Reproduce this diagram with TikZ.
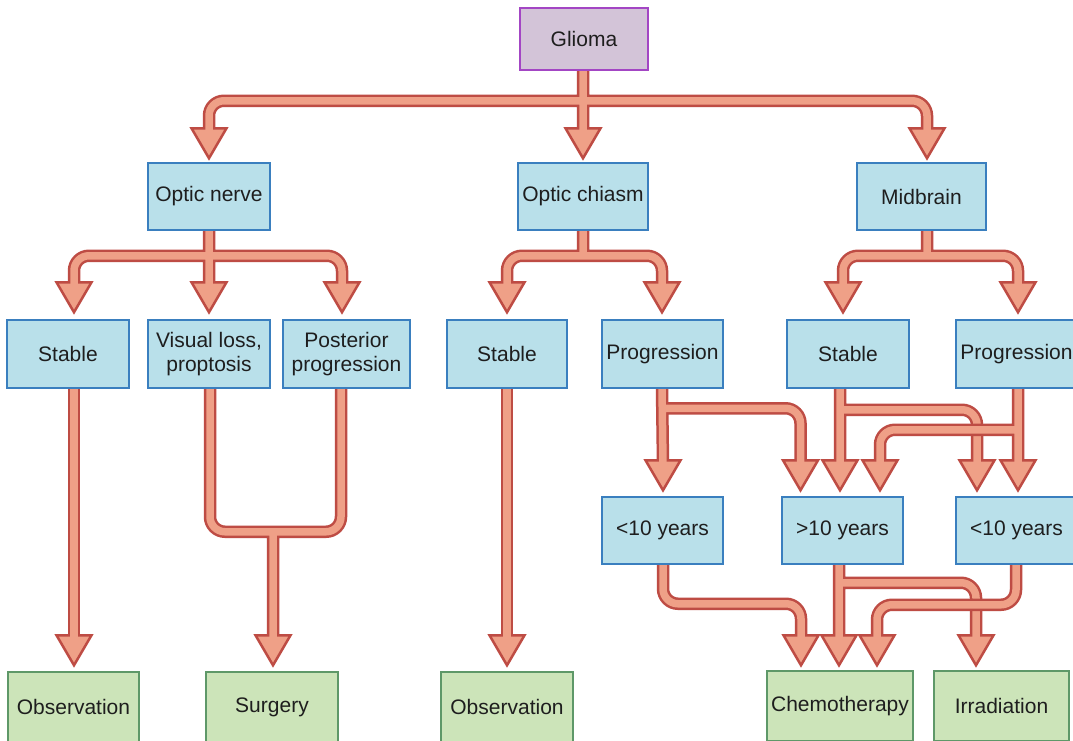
\documentclass[tikz,border=0pt]{standalone}
\usepackage{fontspec}
\setmainfont{Liberation Sans}
\usetikzlibrary{calc}
\pgfdeclarelayer{background}
\pgfsetlayers{background,main}

\definecolor{arrowfill}{HTML}{EFA087}
\definecolor{arrowline}{HTML}{BE4C44}
\definecolor{bluefill}{HTML}{B9E0EA}
\definecolor{blueline}{HTML}{3A7FBF}
\definecolor{greenfill}{HTML}{CCE4B9}
\definecolor{greenline}{HTML}{5E9868}
\definecolor{purplefill}{HTML}{D3C4D8}
\definecolor{purpleline}{HTML}{A346C4}
\definecolor{ink}{HTML}{1E1E1E}

\tikzset{
  flowbox/.style={rectangle, draw, line width=1.5pt, inner sep=0pt, align=center,
    text=ink, font=\fontsize{21pt}{24.5pt}\selectfont},
  topbox/.style={flowbox, fill=purplefill, draw=purpleline},
  sitebox/.style={flowbox, fill=bluefill, draw=blueline},
  outcome/.style={flowbox, fill=greenfill, draw=greenline},
  outerstroke/.style={draw=arrowline, line width=12.5pt, rounded corners=15pt, line cap=butt},
  innerstroke/.style={draw=arrowfill, line width=7.5pt, rounded corners=15pt, line cap=butt},
  headstyle/.style={fill=arrowfill, draw=arrowline, line width=2.5pt, line join=miter},
}

% arrow tip point (#1) above node #2, shifted #3 sideways, #4 clear of the box;
% (#1e) is where the shaft stops inside the head
\newcommand\tipat[4]{%
  \coordinate (#1) at ([xshift=#3pt,yshift=#4pt]#2.north);
  \coordinate (#1e) at ([yshift=27pt]#1);}
% shaft start under node #2
\newcommand\srcat[3]{\coordinate (#1) at ([xshift=#3pt]#2.south);}
% a fat outlined connector: outline, heads, then the fill stroke on top
\newcommand\flow[2]{%
  \draw[outerstroke] #1;
  \foreach \tipname in {#2}{%
    \filldraw[headstyle, shift={(\tipname)}] (-17.5,-30) -- (17.5,-30) -- (0,0) -- cycle;}
  \draw[innerstroke] #1;}

\begin{document}
\begin{tikzpicture}[x=1pt, y=-1pt]
\useasboundingbox (0,0) rectangle (1073,740);

% boxes
\node[topbox, minimum width=128pt, minimum height=62pt] (glioma) at (584,39) {Glioma};

\node[sitebox, minimum width=122pt, minimum height=67pt] (onerve)   at (209,196.5) {Optic nerve};
\node[sitebox, minimum width=130pt, minimum height=67pt] (ochiasm)  at (583,196.5) {Optic chiasm};
\node[sitebox, minimum width=129pt, minimum height=67pt] (midbrain) at (921.5,196.5) {Midbrain};

\node[sitebox, minimum width=122pt, minimum height=68pt] (stable1)   at (68,354) {Stable};
\node[sitebox, minimum width=122pt, minimum height=68pt] (visual)    at (209,354) {Visual loss,\\proptosis};
\node[sitebox, minimum width=127pt, minimum height=68pt] (posterior) at (346.5,354) {Posterior\\progression};
\node[sitebox, minimum width=120pt, minimum height=68pt] (stable2)   at (507,354) {Stable};
\node[sitebox, minimum width=121pt, minimum height=68pt] (prog1)     at (662.5,354) {Progression};
\node[sitebox, minimum width=122pt, minimum height=68pt] (stable3)   at (848,354) {Stable};
\node[sitebox, minimum width=121pt, minimum height=68pt] (prog2)     at (1016.5,354) {Progression};

\node[sitebox, minimum width=121pt, minimum height=67pt] (lt10a) at (662.5,530.5) {<10 years};
\node[sitebox, minimum width=121pt, minimum height=67pt] (gt10)  at (842.5,530.5) {>10 years};
\node[sitebox, minimum width=121pt, minimum height=67pt] (lt10b) at (1016.5,530.5) {<10 years};

\node[outcome, minimum width=131pt, minimum height=70pt] (obs1)    at (73.5,707) {Observation};
\node[outcome, minimum width=132pt, minimum height=70pt] (surgery) at (272,707) {Surgery};
\node[outcome, minimum width=132pt, minimum height=70pt] (obs2)    at (507,707) {Observation};
\node[outcome, minimum width=146pt, minimum height=70pt] (chemo)   at (840,706) {Chemotherapy};
\node[outcome, minimum width=135pt, minimum height=70pt] (irrad)   at (1001.5,706) {Irradiation};

% shaft starts
\srcat{sG}{glioma}{-1}
\srcat{sON}{onerve}{0}
\srcat{sOC}{ochiasm}{0}
\srcat{sMB}{midbrain}{5.5}
\srcat{sS1}{stable1}{6}
\srcat{sVI}{visual}{1}
\srcat{sPP}{posterior}{-5.5}
\srcat{sS2}{stable2}{0}
\srcat{sP1}{prog1}{-0.5}
\srcat{sS3}{stable3}{-8}
\srcat{sP2}{prog2}{1.5}
\srcat{sA}{lt10a}{0.5}
\srcat{sB}{gt10}{-3.5}
\srcat{sC}{lt10b}{-0.5}

% arrow tips
\tipat{tON}{onerve}{0}{4}
\tipat{tOC}{ochiasm}{0}{4}
\tipat{tMB}{midbrain}{5.5}{4}
\tipat{tS1}{stable1}{6}{7}
\tipat{tVI}{visual}{0}{7}
\tipat{tPP}{posterior}{-4.5}{7}
\tipat{tS2}{stable2}{0}{7}
\tipat{tP1}{prog1}{-0.5}{7}
\tipat{tS3}{stable3}{-5}{7}
\tipat{tP2}{prog2}{1.5}{7}
\tipat{tA1}{lt10a}{0.5}{6}
\tipat{tB1}{gt10}{-42}{6}
\tipat{tB2}{gt10}{-2.5}{6}
\tipat{tB3}{gt10}{37.5}{6}
\tipat{tC2}{lt10b}{-39.5}{6}
\tipat{tC3}{lt10b}{1.5}{6}
\tipat{tO1}{obs1}{0.5}{6}
\tipat{tSU}{surgery}{1}{6}
\tipat{tO2}{obs2}{0}{6}
\tipat{tH1}{chemo}{-39}{5}
\tipat{tH2}{chemo}{-1}{5}
\tipat{tH3}{chemo}{37}{5}
\tipat{tIR}{irrad}{-25.5}{5}

% branch points
\coordinate (jG)  at ([yshift=-30pt]sG);
\coordinate (jON) at ([yshift=-25pt]sON);
\coordinate (jOC) at ([yshift=-25pt]sOC);
\coordinate (jMB) at ([yshift=-25pt]sMB);
\coordinate (hVI) at ([yshift=-143pt]sVI);
\coordinate (jSU) at (hVI -| tSU);
\coordinate (hP1) at ([yshift=-19.5pt]sP1);
\coordinate (hS3) at ([yshift=-21pt]sS3);
\coordinate (hP2) at ([yshift=-41pt]sP2);
\coordinate (hA)  at ([yshift=-39pt]sA);
\coordinate (hB)  at ([yshift=-18pt]sB);
\coordinate (hC)  at ([yshift=-40pt]sC);

\begin{pgfonlayer}{background}
  \fill[white] (0,0) rectangle (1073,740);
  % from the tumour to its sites
  \flow{(sG) -- (tOCe) (jG) -| (tONe) (jG) -| (tMBe)}{tON,tOC,tMB}
  % optic nerve
  \flow{(sON) -- (tVIe) (jON) -| (tS1e) (jON) -| (tPPe)}{tS1,tVI,tPP}
  % optic chiasm
  \flow{(sOC) -- (jOC) (jOC) -| (tS2e) (jOC) -| (tP1e)}{tS2,tP1}
  % midbrain
  \flow{(sMB) -- (jMB) (jMB) -| (tS3e) (jMB) -| (tP2e)}{tS3,tP2}
  % courses to treatment
  \flow{(sS1) -- (tO1e)}{tO1}
  \flow{(sVI) -- (hVI) -| (sPP) (jSU) -- (tSUe)}{tSU}
  \flow{(sS2) -- (tO2e)}{tO2}
  \flow{(sP1) -- (tA1e) (hP1) -| (tB1e)}{tA1,tB1}
  \flow{(sS3) -- (tB2e) (hS3) -| (tC2e)}{tB2,tC2}
  \flow{(sP2) -- (tC3e) (hP2) -| (tB3e)}{tC3,tB3}
  % age groups
  \flow{(sA) -- (hA) -| (tH1e)}{tH1}
  \flow{(sB) -- (tH2e) (hB) -| (tIRe)}{tH2,tIR}
  \flow{(sC) -- (hC) -| (tH3e)}{tH3}
\end{pgfonlayer}
\end{tikzpicture}
\end{document}
